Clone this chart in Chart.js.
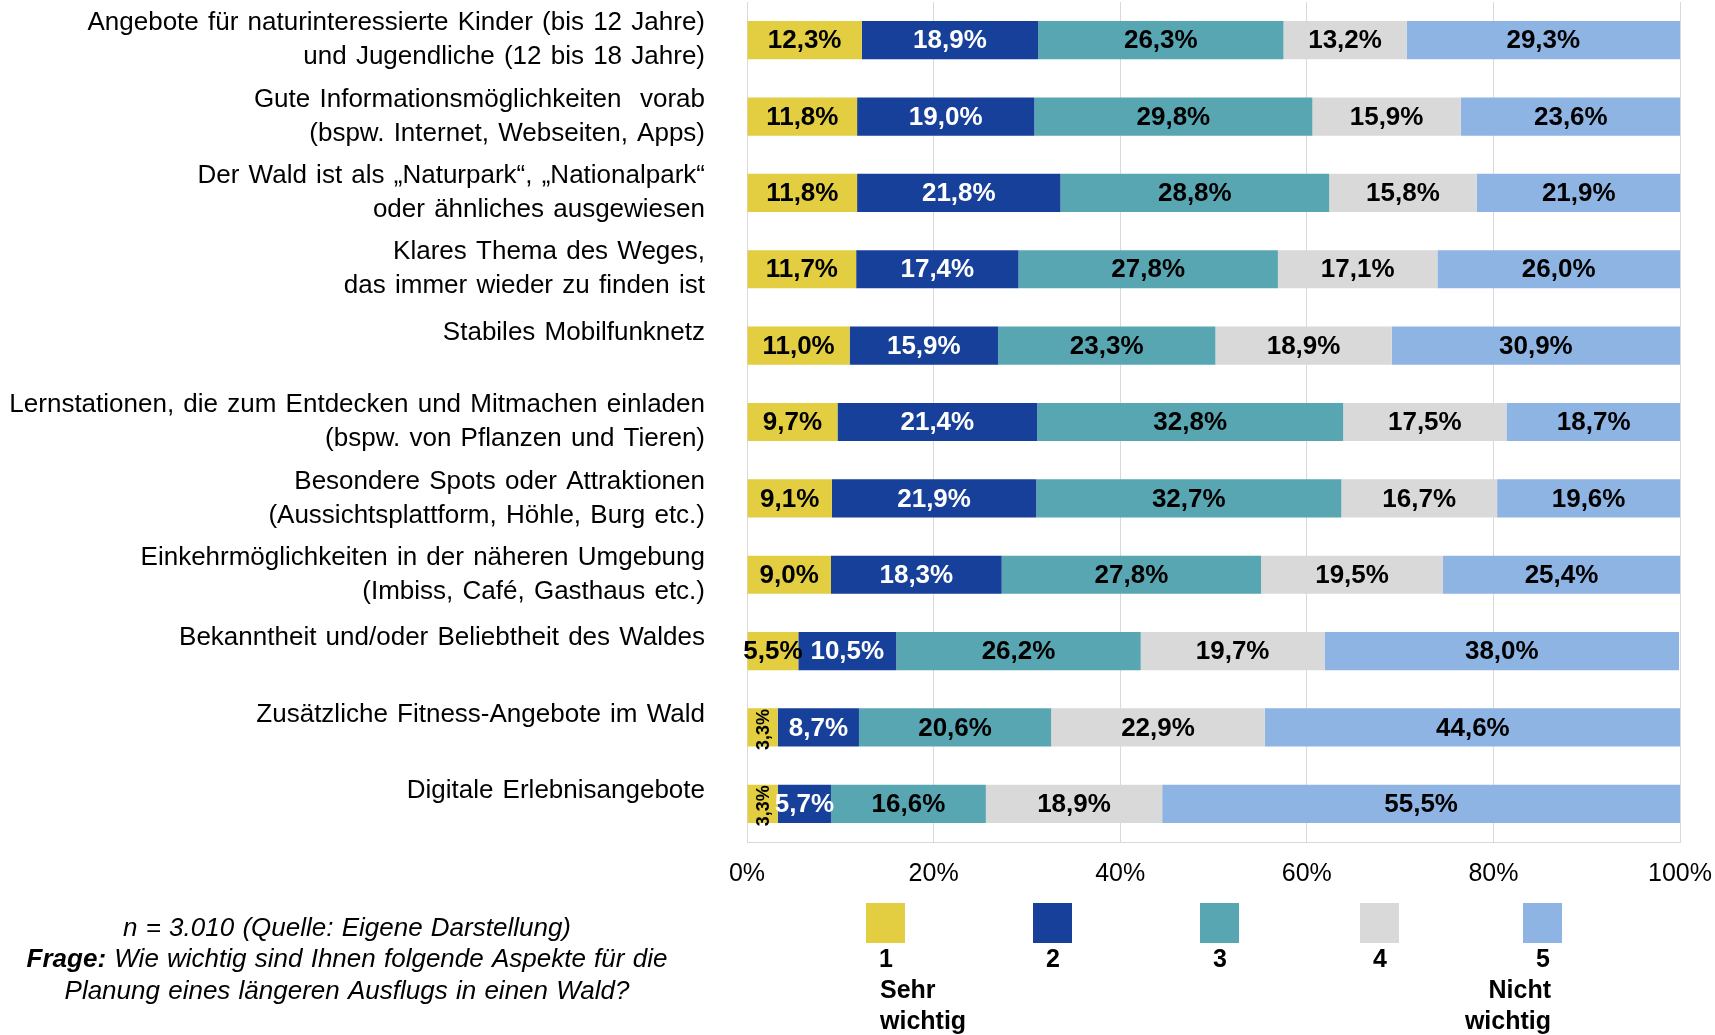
<!DOCTYPE html>
<html>
<head>
<meta charset="utf-8">
<script src="https://cdn.jsdelivr.net/npm/chart.js@4.4.1/dist/chart.umd.min.js"></script>
<style>
  html, body { margin: 0; padding: 0; background: #fff; }
  #wrap { width: 1715px; height: 1035px; position: relative; }
</style>
</head>
<body>
<div id="wrap"><canvas id="chart"></canvas></div>
<script>
// categories (top to bottom)
const categories = [
  ['Angebote für naturinteressierte Kinder (bis 12 Jahre)', 'und Jugendliche (12 bis 18 Jahre)'],
  ['Gute Informationsmöglichkeiten  vorab', '(bspw. Internet, Webseiten, Apps)'],
  ['Der Wald ist als „Naturpark“, „Nationalpark“', 'oder ähnliches ausgewiesen'],
  ['Klares Thema des Weges,', 'das immer wieder zu finden ist'],
  ['Stabiles Mobilfunknetz'],
  ['Lernstationen, die zum Entdecken und Mitmachen einladen', '(bspw. von Pflanzen und Tieren)'],
  ['Besondere Spots oder Attraktionen', '(Aussichtsplattform, Höhle, Burg etc.)'],
  ['Einkehrmöglichkeiten in der näheren Umgebung', '(Imbiss, Café, Gasthaus etc.)'],
  ['Bekanntheit und/oder Beliebtheit des Waldes'],
  ['Zusätzliche Fitness-Angebote im Wald'],
  ['Digitale Erlebnisangebote']
];

// shares in percent, rating 1 (sehr wichtig) .. 5 (nicht wichtig)
const rating1 = [12.3, 11.8, 11.8, 11.7, 11.0, 9.7, 9.1, 9.0, 5.5, 3.3, 3.3];
const rating2 = [18.9, 19.0, 21.8, 17.4, 15.9, 21.4, 21.9, 18.3, 10.5, 8.7, 5.7];
const rating3 = [26.3, 29.8, 28.8, 27.8, 23.3, 32.8, 32.7, 27.8, 26.2, 20.6, 16.6];
const rating4 = [13.2, 15.9, 15.8, 17.1, 18.9, 17.5, 16.7, 19.5, 19.7, 22.9, 18.9];
const rating5 = [29.3, 23.6, 21.9, 26.0, 30.9, 18.7, 19.6, 25.4, 38.0, 44.6, 55.5];

const seriesNames = ['1', '2', '3', '4', '5'];
const seriesSub = [['Sehr', 'wichtig'], [], [], [], ['Nicht', 'wichtig']];
const xTicks = [0, 20, 40, 60, 80, 100];

const colors = ['#e2ce40', '#17409a', '#58a6b2', '#d9d9d9', '#8eb4e3'];
const labelColors = ['#000', '#fff', '#000', '#000', '#000'];

// legend item centres (px), like the Excel legend spacing
const legendX = [885, 1052, 1219, 1379, 1542];

const FONT = '"Liberation Sans", Arial, sans-serif';
const fmt = v => v.toFixed(1).replace('.', ',') + '%';

// data labels inside the bar segments
const valueLabels = {
  id: 'valueLabels',
  afterDatasetsDraw(chart) {
    const ctx = chart.ctx;
    ctx.save();
    chart.data.datasets.forEach((ds, di) => {
      const meta = chart.getDatasetMeta(di);
      meta.data.forEach((bar, i) => {
        const txt = fmt(ds.data[i]);
        const segW = Math.abs(bar.x - bar.base);
        const cx = (bar.x + bar.base) / 2;
        ctx.fillStyle = labelColors[di];
        ctx.textAlign = 'center';
        ctx.textBaseline = 'middle';
        ctx.font = 'bold 26px ' + FONT;
        const w = ctx.measureText(txt).width;
        if (w > segW * 1.3) {
          // too narrow: rotate, like Excel does
          ctx.save();
          ctx.font = 'bold 18px ' + FONT;
          ctx.translate(cx + 1, bar.y + 2);
          ctx.rotate(-Math.PI / 2);
          ctx.fillText(txt, 0, 0);
          ctx.restore();
        } else {
          ctx.fillText(txt, cx, bar.y + 1);
        }
      });
    });
    ctx.restore();
  }
};

// category labels on the left
const catLabels = {
  id: 'catLabels',
  afterDraw(chart) {
    const ctx = chart.ctx;
    const yScale = chart.scales.y;
    ctx.save();
    ctx.font = '26px ' + FONT;
    ctx.wordSpacing = '2px';
    ctx.fillStyle = '#000';
    ctx.textAlign = 'right';
    ctx.textBaseline = 'middle';
    chart.data.labels.forEach((lab, i) => {
      const lines = Array.isArray(lab) ? lab : [lab];
      const y = yScale.getPixelForValue(i);
      const off = lines.length === 1 ? -13 : 0;
      lines.forEach((ln, j) => {
        ctx.fillText(ln, 705, y + off + (j - (lines.length - 1) / 2) * 34);
      });
    });
    ctx.restore();
  }
};

// legend and footnote below the plot
const bottomBlock = {
  id: 'bottomBlock',
  afterDraw(chart) {
    const ctx = chart.ctx;
    ctx.save();
    chart.data.datasets.forEach((ds, di) => {
      const cx = legendX[di];
      ctx.fillStyle = ds.backgroundColor;
      ctx.fillRect(cx - 19, 903, 39, 40);
      ctx.fillStyle = '#000';
      ctx.font = 'bold 25px ' + FONT;
      ctx.textBaseline = 'middle';
      ctx.textAlign = 'center';
      ctx.fillText(seriesNames[di], cx + 1, 960);
      const sub = seriesSub[di];
      if (sub.length) {
        const first = di === 0;
        ctx.textAlign = first ? 'left' : 'right';
        const x = first ? cx - 5 : cx + 9;
        sub.forEach((s, j) => ctx.fillText(s, x, 991 + j * 31));
      }
    });
    // footnote
    ctx.fillStyle = '#000';
    ctx.textBaseline = 'middle';
    ctx.wordSpacing = '1px';
    ctx.textAlign = 'center';
    ctx.font = 'italic 26px ' + FONT;
    ctx.fillText('n = 3.010 (Quelle: Eigene Darstellung)', 347, 929);
    const bold = 'Frage:';
    const rest = ' Wie wichtig sind Ihnen folgende Aspekte für die';
    ctx.font = 'bold italic 26px ' + FONT;
    const bw = ctx.measureText(bold).width;
    ctx.font = 'italic 26px ' + FONT;
    const rw = ctx.measureText(rest).width;
    const x0 = 347 - (bw + rw) / 2;
    ctx.textAlign = 'left';
    ctx.font = 'bold italic 26px ' + FONT;
    ctx.fillText(bold, x0, 960);
    ctx.font = 'italic 26px ' + FONT;
    ctx.fillText(rest, x0 + bw, 960);
    ctx.textAlign = 'center';
    ctx.fillText('Planung eines längeren Ausflugs in einen Wald?', 347, 992);
    ctx.restore();
  }
};

const ratings = [rating1, rating2, rating3, rating4, rating5];

new Chart(document.getElementById('chart'), {
  type: 'bar',
  data: {
    labels: categories,
    datasets: ratings.map((r, i) => ({
      label: seriesNames[i],
      data: r,
      backgroundColor: colors[i],
      borderWidth: 0,
      categoryPercentage: 1.0,
      barPercentage: 0.5
    }))
  },
  options: {
    indexAxis: 'y',
    responsive: true,
    maintainAspectRatio: false,
    animation: false,
    layout: { padding: { left: 0, right: 35, top: 2, bottom: 143 } },
    plugins: { legend: { display: false }, tooltip: { enabled: false } },
    scales: {
      x: {
        stacked: true,
        min: 0,
        max: 100,
        afterBuildTicks: s => { s.ticks = xTicks.map(v => ({ value: v })); },
        afterFit: s => { s.height = 50; s.paddingLeft = 0; s.paddingRight = 0; },
        grid: { color: '#d9d9d9', lineWidth: 1, drawTicks: false },
        border: { display: true, color: '#d9d9d9' },
        ticks: {
          padding: 17,
          color: '#000',
          font: { family: FONT, size: 25 },
          callback: v => v + '%'
        }
      },
      y: {
        stacked: true,
        afterFit: s => { s.width = 747; },
        grid: { display: false },
        border: { display: false },
        ticks: { display: false }
      }
    }
  },
  plugins: [valueLabels, catLabels, bottomBlock]
});
</script>
</body>
</html>
